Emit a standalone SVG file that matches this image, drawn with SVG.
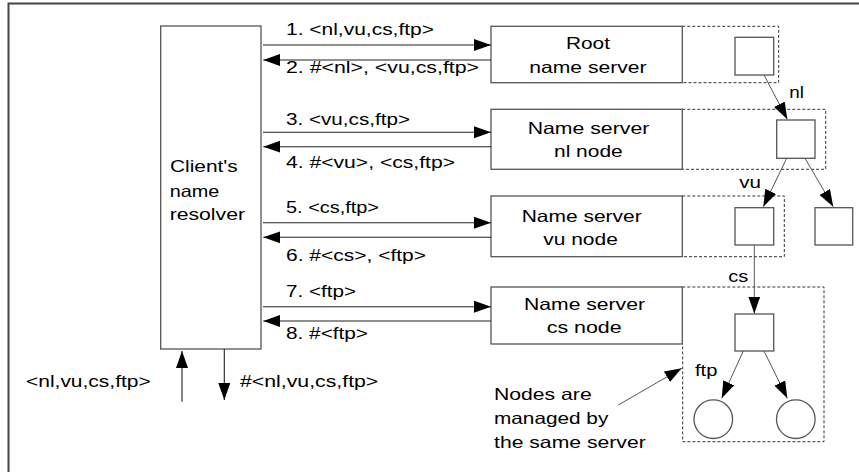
<svg xmlns="http://www.w3.org/2000/svg" width="859" height="472" viewBox="0 0 859 472">
<style>
text{font-family:"Liberation Sans",Arial,sans-serif;font-size:16.5px;fill:#000}
.box{fill:#fff;stroke:#555;stroke-width:1.3}
.dash{fill:none;stroke:#333;stroke-width:1;stroke-dasharray:3 2}
.ln{fill:none;stroke:#222;stroke-width:1.1}
.tr{fill:none;stroke:#555;stroke-width:1;marker-end:url(#ah)}
.arr{marker-end:url(#ah)}
</style>
<defs>
<marker id="ah" markerUnits="userSpaceOnUse" markerWidth="18" markerHeight="13" refX="17" refY="6" orient="auto">
<path d="M0,0 L17,6 L0,12 Z" fill="#000"/>
</marker>
</defs>
<rect width="859" height="472" fill="#fff"/>
<path d="M8.5,472 V3.5 H859" fill="none" stroke="#444" stroke-width="2"/>

<g id="client">
<rect class="box" x="160.7" y="26" width="100.3" height="323"/>
<text x="170" y="172.3" textLength="67.7" lengthAdjust="spacingAndGlyphs">Client's</text>
<text x="169.7" y="196.7" textLength="49.6" lengthAdjust="spacingAndGlyphs">name</text>
<text x="169.7" y="220" textLength="75.3" lengthAdjust="spacingAndGlyphs">resolver</text>
</g>

<g id="root-server">
<path class="dash" d="M682.3,26.3 H778.7 V82.7 H682.3"/>
<rect class="box" x="491" y="26.3" width="191.3" height="56.4"/>
<text x="566" y="49" textLength="44" lengthAdjust="spacingAndGlyphs">Root</text>
<text x="529.3" y="72.7" textLength="117.3" lengthAdjust="spacingAndGlyphs">name server</text>
</g>
<g id="nl-server">
<path class="dash" d="M682.3,109.3 H825.7 V169.3 H682.3"/>
<rect class="box" x="491" y="109.3" width="191.3" height="60"/>
<text x="527.7" y="134" textLength="121.6" lengthAdjust="spacingAndGlyphs">Name server</text>
<text x="554" y="156.7" textLength="68.7" lengthAdjust="spacingAndGlyphs">nl node</text>
</g>
<g id="vu-server">
<path class="dash" d="M682.3,196 H784.3 V256.7 H682.3"/>
<rect class="box" x="491" y="196" width="191.3" height="60.7"/>
<text x="521.7" y="222.3" textLength="120" lengthAdjust="spacingAndGlyphs">Name server</text>
<text x="543.3" y="245" textLength="74.5" lengthAdjust="spacingAndGlyphs">vu node</text>
</g>
<g id="cs-server">
<path class="dash" d="M682.3,287 H824 V441.7 H682.7 V344"/>
<rect class="box" x="491" y="287" width="191.3" height="57"/>
<text x="524" y="310" textLength="121" lengthAdjust="spacingAndGlyphs">Name server</text>
<text x="546.7" y="332.7" textLength="75" lengthAdjust="spacingAndGlyphs">cs node</text>
</g>

<g id="tree-root"><rect class="box" x="735" y="37.3" width="38.7" height="37.7"/></g>
<g id="tree-nl"><rect class="box" x="776.7" y="120" width="38.3" height="38.3"/></g>
<g id="tree-vu"><rect class="box" x="735" y="207.7" width="38.7" height="37.3"/></g>
<g id="tree-other"><rect class="box" x="815" y="207.7" width="37.7" height="37.3"/></g>
<g id="tree-cs"><rect class="box" x="735" y="314" width="38.7" height="37"/></g>
<g id="tree-ftp1"><circle class="box" cx="713.3" cy="419.2" r="19.3"/></g>
<g id="tree-ftp2"><circle class="box" cx="795.8" cy="419.2" r="19.3"/></g>

<g id="connectors">
<line class="ln arr" x1="263" y1="45" x2="491" y2="45"/>
<line class="ln arr" x1="491" y1="60" x2="263.3" y2="60"/>
<line class="ln arr" x1="263" y1="132.3" x2="491" y2="132.3"/>
<line class="ln arr" x1="491" y1="146.7" x2="263.3" y2="146.7"/>
<line class="ln arr" x1="263" y1="222.7" x2="491" y2="222.7"/>
<line class="ln arr" x1="491" y1="237.3" x2="263.3" y2="237.3"/>
<line class="ln arr" x1="263" y1="306.7" x2="491" y2="306.7"/>
<line class="ln arr" x1="491" y1="321" x2="263.3" y2="321"/>
<line class="ln arr" x1="182" y1="401.7" x2="182" y2="351"/>
<line class="ln arr" x1="224.3" y1="349" x2="224.3" y2="400"/>
<line class="tr" x1="764" y1="75" x2="787.3" y2="119.3"/>
<line class="tr" x1="786.7" y1="158.3" x2="763.3" y2="206.7"/>
<line class="tr" x1="805" y1="158.3" x2="833.3" y2="206.7"/>
<line class="tr" x1="754.3" y1="245" x2="754.3" y2="313.5"/>
<line class="tr" x1="743.3" y1="351" x2="721.7" y2="398.3"/>
<line class="tr" x1="764" y1="351" x2="787.3" y2="398.3"/>
<line class="tr" x1="618.3" y1="405" x2="681.7" y2="368.3" stroke="#222"/>
</g>

<g id="labels">
<text x="286" y="35" textLength="148" lengthAdjust="spacingAndGlyphs">1. &lt;nl,vu,cs,ftp&gt;</text>
<text x="286" y="73.3" textLength="193" lengthAdjust="spacingAndGlyphs">2. #&lt;nl&gt;, &lt;vu,cs,ftp&gt;</text>
<text x="286" y="125.3" textLength="124" lengthAdjust="spacingAndGlyphs">3. &lt;vu,cs,ftp&gt;</text>
<text x="286" y="168.3" textLength="169" lengthAdjust="spacingAndGlyphs">4. #&lt;vu&gt;, &lt;cs,ftp&gt;</text>
<text x="286" y="213.3" textLength="93" lengthAdjust="spacingAndGlyphs">5. &lt;cs,ftp&gt;</text>
<text x="286" y="261" textLength="140" lengthAdjust="spacingAndGlyphs">6. #&lt;cs&gt;, &lt;ftp&gt;</text>
<text x="286" y="297.3" textLength="70" lengthAdjust="spacingAndGlyphs">7. &lt;ftp&gt;</text>
<text x="286" y="339" textLength="82" lengthAdjust="spacingAndGlyphs">8. #&lt;ftp&gt;</text>
<text x="26" y="387" textLength="124.7" lengthAdjust="spacingAndGlyphs">&lt;nl,vu,cs,ftp&gt;</text>
<text x="240" y="387" textLength="138.3" lengthAdjust="spacingAndGlyphs">#&lt;nl,vu,cs,ftp&gt;</text>
<text x="789.3" y="97.7" textLength="14.7" lengthAdjust="spacingAndGlyphs">nl</text>
<text x="739.3" y="188.3" textLength="21.7" lengthAdjust="spacingAndGlyphs">vu</text>
<text x="728.3" y="282.3" textLength="20" lengthAdjust="spacingAndGlyphs">cs</text>
<text x="695" y="376" textLength="22.3" lengthAdjust="spacingAndGlyphs">ftp</text>
<text x="494" y="399.5" textLength="97.7" lengthAdjust="spacingAndGlyphs">Nodes are</text>
<text x="494" y="424" textLength="114.3" lengthAdjust="spacingAndGlyphs">managed by</text>
<text x="494" y="447.5" textLength="151.7" lengthAdjust="spacingAndGlyphs">the same server</text>
</g>
</svg>
